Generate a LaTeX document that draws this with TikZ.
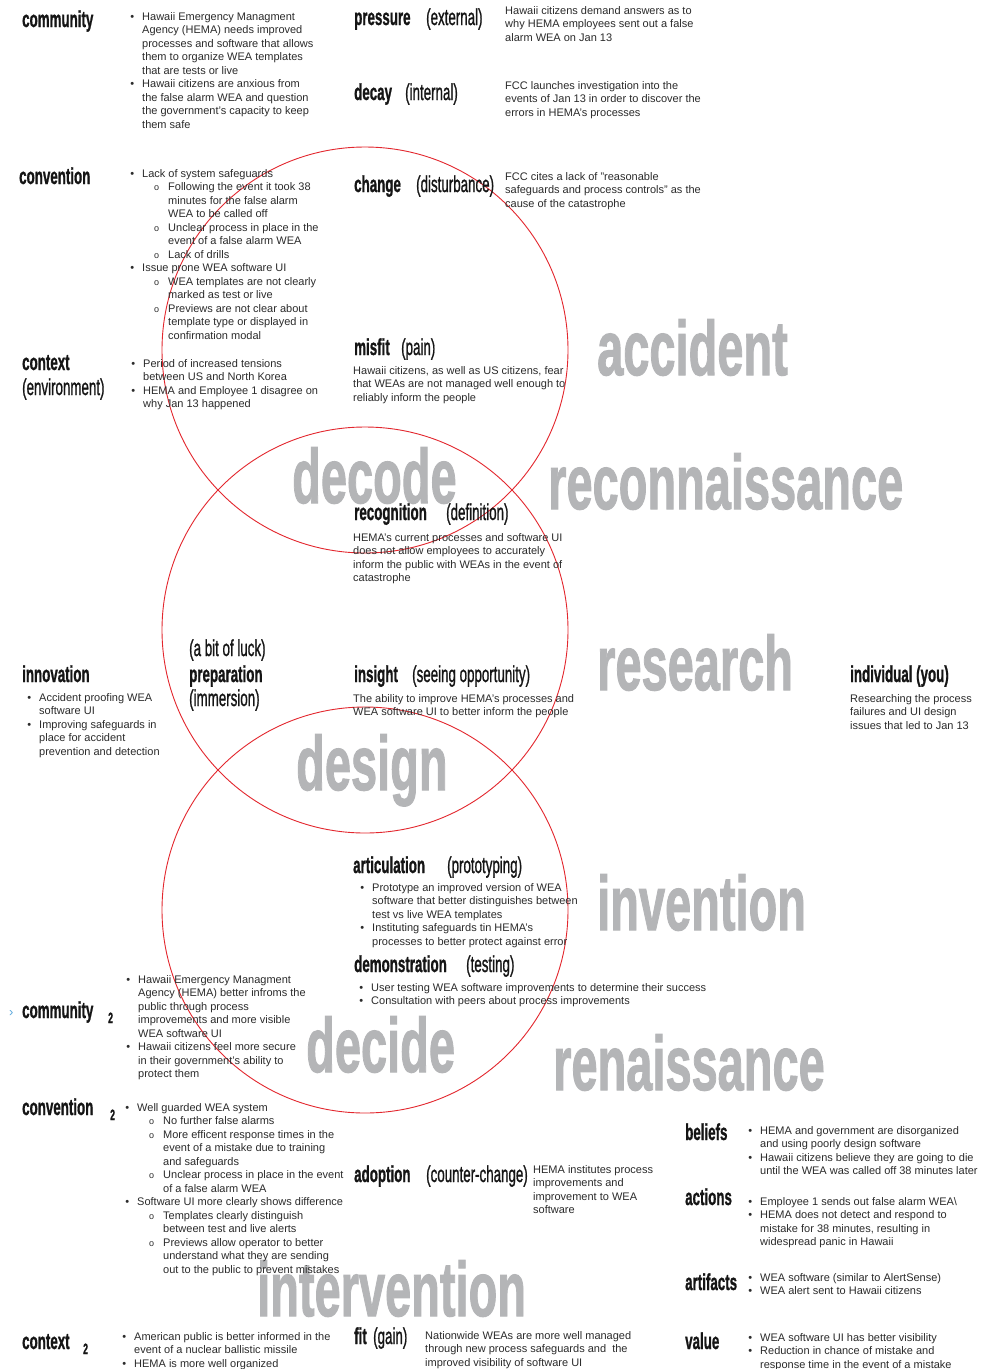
\documentclass[tikz,border=0pt]{standalone}
\usepackage{fontspec}
\usepackage{graphicx}
\setmainfont{Liberation Sans}
\newfontfamily\lmed[FakeBold=1.3]{Liberation Sans}
\newfontfamily\hbf[BoldFeatures={FakeBold=1.3}]{Liberation Sans}
\newfontfamily\gbf[BoldFeatures={FakeBold=1.6}]{Liberation Sans}
\definecolor{bodyc}{HTML}{2B2B2B}
\definecolor{headc}{HTML}{151515}
\definecolor{bigc}{HTML}{B4B5B7}
\definecolor{circc}{HTML}{E3262D}
\definecolor{arrc}{HTML}{5BA8DC}
\newcommand\Cn[1]{\scalebox{0.58}[1]{#1}}
\newcommand\Cb[1]{\scalebox{0.61}[1]{#1}}
\newcommand\Bu{\llap{\textbullet\hspace{8pt}}}
\newcommand\Su{\hspace*{26pt}\llap{{\fontsize{9}{9}\selectfont o}\hspace{9pt}}}
\newcommand\In{\hspace*{26pt}}
\tikzset{
  hd/.style={font=\fontsize{23}{23}\hbf\bfseries, text=headc, inner sep=0pt, anchor=base west},
  hp/.style={font=\fontsize{23}{23}\lmed, text=headc, inner sep=0pt, anchor=base west},
  sub/.style={font=\fontsize{15}{15}\hbf\bfseries, text=headc, inner sep=0pt, anchor=base west},
  big/.style={font=\fontsize{77}{77}\gbf\bfseries, text=bigc, inner sep=0pt, anchor=base west},
  body/.style={font=\fontsize{11}{13.52}\selectfont, text=bodyc, inner sep=0pt, anchor=north west, yshift=8pt, align=left, execute at begin node={\rule{0pt}{10pt}}},
  ring/.style={draw=circc, line width=0.9pt}
}
\begin{document}
\begin{tikzpicture}[x=1pt,y=-1pt]
\useasboundingbox (0,0) rectangle (991,1369);
\fill[white] (0,0) rectangle (991,1369);
% big grey words
\node[big] (wAcc) at (597,375) {\Cb{accident}};
\node[big] (wDecode) at (292,503) {\Cb{decode}};
\node[big] (wRecon) at (548,509) {\Cb{reconnaissance}};
\node[big] (wRes) at (597,690) {\Cb{research}};
\node[big] (wDesign) at (296,790) {\Cb{design}};
\node[big] (wInv) at (597,930) {\Cb{invention}};
\node[big] (wDecide) at (306,1072) {\Cb{decide}};
\node[big] (wRen) at (553,1090) {\Cb{renaissance}};
\node[big] (wInt) at (257,1316) {\Cb{intervention}};
% circles
\draw[ring] (365,350) circle (203pt);
\draw[ring] (365,630) circle (203pt);
\draw[ring] (365,910) circle (203pt);
% left headings
\node[hd] (hComm) at (22,27) {\Cn{community}};
\node[hd] (hConv) at (19,184) {\Cn{convention}};
\node[hd] (hCtx) at (22,370) {\Cn{context}};
\node[hp] (hEnv) at (22,395) {\Cn{(environment)}};
\node[hd] (hInno) at (22,682) {\Cn{innovation}};
\node[font=\fontsize{13}{13}\selectfont, text=arrc, inner sep=0pt, anchor=base west] (arr) at (9,1016) {›};
\node[hd] (hComm2) at (22,1018) {\Cn{community}};
\node[sub] (n2a) at (108,1023) {\Cn{2}};
\node[hd] (hConv2) at (22,1115) {\Cn{convention}};
\node[sub] (n2b) at (110,1120) {\Cn{2}};
\node[hd] (hCtx2) at (22,1349) {\Cn{context}};
\node[sub] (n2c) at (83,1354) {\Cn{2}};
% middle headings
\node[hd] (hPres) at (354,25) {\Cn{pressure}};
\node[hp] (hExt) at (426,25) {\Cn{(external)}};
\node[hd] (hDecay) at (354,100) {\Cn{decay}};
\node[hp] (hIntl) at (405,100) {\Cn{(internal)}};
\node[hd] (hChange) at (354,192) {\Cn{change}};
\node[hp] (hDist) at (416,192) {\Cn{(disturbance)}};
\node[hd] (hMisfit) at (354,355) {\Cn{misfit}};
\node[hp] (hPain) at (401,355) {\Cn{(pain)}};
\node[hd] (hRecog) at (354,520) {\Cn{recognition}};
\node[hp] (hDef) at (446,520) {\Cn{(definition)}};
\node[hp] (hLuck) at (189,656) {\Cn{(a bit of luck)}};
\node[hd] (hPrep) at (189,682) {\Cn{preparation}};
\node[hp] (hImm) at (189,706) {\Cn{(immersion)}};
\node[hd] (hIns) at (354,682) {\Cn{insight}};
\node[hp] (hSee) at (412,682) {\Cn{(seeing opportunity)}};
\node[hd] (hInd) at (850,682) {\Cn{individual (you)}};
\node[hd] (hArt) at (353,873) {\Cn{articulation}};
\node[hp] (hProto) at (447,873) {\Cn{(prototyping)}};
\node[hd] (hDemo) at (354,972) {\Cn{demonstration}};
\node[hp] (hTest) at (466,972) {\Cn{(testing)}};
\node[hd] (hAdop) at (354,1182) {\Cn{adoption}};
\node[hp] (hCounter) at (426,1182) {\Cn{(counter-change)}};
\node[hd] (hFit) at (354,1344) {\Cn{fit}};
\node[hp] (hGain) at (373,1344) {\Cn{(gain)}};
% right headings
\node[hd] (hBel) at (685,1140) {\Cn{beliefs}};
\node[hd] (hAct) at (685,1205) {\Cn{actions}};
\node[hd] (hArtf) at (685,1290) {\Cn{artifacts}};
\node[hd] (hVal) at (685,1349) {\Cn{value}};
% body texts
\node[body] (tComm) at (142,20) {\Bu Hawaii Emergency Managment\\Agency (HEMA) needs improved\\processes and software that allows\\them to organize WEA templates\\that are tests or live\\\Bu Hawaii citizens are anxious from\\the false alarm WEA and question\\the government's capacity to keep\\them safe};
\node[body] (tConv) at (142,177) {\Bu Lack of system safeguards\\\Su Following the event it took 38\\\In minutes for the false alarm\\\In WEA to be called off\\\Su Unclear process in place in the\\\In event of a false alarm WEA\\\Su Lack of drills\\\Bu Issue prone WEA software UI\\\Su WEA templates are not clearly\\\In marked as test or live\\\Su Previews are not clear about\\\In template type or displayed in\\\In confirmation modal};
\node[body] (tCtx) at (143,367) {\Bu Period of increased tensions\\between US and North Korea\\\Bu HEMA and Employee 1 disagree on\\why Jan 13 happened};
\node[body] (tPres) at (505,14) {Hawaii citizens demand answers as to\\why HEMA employees sent out a false\\alarm WEA on Jan 13};
\node[body] (tDecay) at (505,89) {FCC launches investigation into the\\events of Jan 13 in order to discover the\\errors in HEMA's processes};
\node[body] (tChange) at (505,180) {FCC cites a lack of "reasonable\\safeguards and process controls" as the\\cause of the catastrophe};
\node[body] (tMisfit) at (353,374) {Hawaii citizens, as well as US citizens, fear\\that WEAs are not managed well enough to\\reliably inform the people};
\node[body] (tRecog) at (353,541) {HEMA's current processes and software UI\\does not allow employees to accurately\\inform the public with WEAs in the event of\\catastrophe};
\node[body] (tIns) at (353,702) {The ability to improve HEMA's processes and\\WEA software UI to better inform the people};
\node[body] (tInd) at (850,702) {Researching the process\\failures and UI design\\issues that led to Jan 13};
\node[body] (tInno) at (39,701) {\Bu Accident proofing WEA\\software UI\\\Bu Improving safeguards in\\place for accident\\prevention and detection};
\node[body] (tArt) at (372,891) {\Bu Prototype an improved version of WEA\\software that better distinguishes between\\test vs live WEA templates\\\Bu Instituting safeguards tin HEMA's\\processes to better protect against error};
\node[body] (tDemo) at (371,991) {\Bu User testing WEA software improvements to determine their success\\\Bu Consultation with peers about process improvements};
\node[body] (tComm2) at (138,983) {\Bu Hawaii Emergency Managment\\Agency (HEMA) better infroms the\\public through process\\improvements and more visible\\WEA software UI\\\Bu Hawaii citizens feel more secure\\in their government's ability to\\protect them};
\node[body] (tConv2) at (137,1111) {\Bu Well guarded WEA system\\\Su No further false alarms\\\Su More efficent response times in the\\\In event of a mistake due to training\\\In and safeguards\\\Su Unclear process in place in the event\\\In of a false alarm WEA\\\Bu Software UI more clearly shows difference\\\Su Templates clearly distinguish\\\In between test and live alerts\\\Su Previews allow operator to better\\\In understand what they are sending\\\In out to the public to prevent mistakes};
\node[body] (tAdop) at (533,1173) {HEMA institutes process\\improvements and\\improvement to WEA\\software};
\node[body] (tFit) at (425,1339) {Nationwide WEAs are more well managed\\through new process safeguards and\ \ the\\improved visibility of software UI};
\node[body] (tCtx2) at (134,1340) {\Bu American public is better informed in the\\event of a nuclear ballistic missile\\\Bu HEMA is more well organized};
\node[body] (tBel) at (760,1134) {\Bu HEMA and government are disorganized\\and using poorly design software\\\Bu Hawaii citizens believe they are going to die\\until the WEA was called off 38 minutes later};
\node[body] (tAct) at (760,1205) {\Bu Employee 1 sends out false alarm WEA\textbackslash\\\Bu HEMA does not detect and respond to\\mistake for 38 minutes, resulting in\\widespread panic in Hawaii};
\node[body] (tArtf) at (760,1281) {\Bu WEA software (similar to AlertSense)\\\Bu WEA alert sent to Hawaii citizens};
\node[body] (tVal) at (760,1341) {\Bu WEA software UI has better visibility\\\Bu Reduction in chance of mistake and\\response time in the event of a mistake};
\end{tikzpicture}
\end{document}
